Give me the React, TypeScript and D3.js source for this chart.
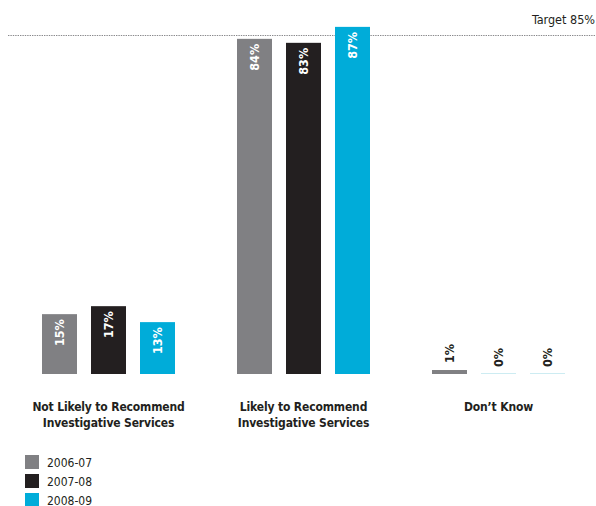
import React from "react";
import * as d3 from "d3";

const categories = [
  ["Not Likely to Recommend", "Investigative Services"],
  ["Likely to Recommend", "Investigative Services"],
  ["Don’t Know"],
];
const seriesNames = ["2006-07", "2007-08", "2008-09"];
const seriesColors = ["#808083", "#231f20", "#00acd9"];
const values2006 = [15, 84, 1];
const values2007 = [17, 83, 0];
const values2008 = [13, 87, 0];
const targetValue = 85;
const targetLabel = "Target 85%";

const W = 596;
const H = 506;
const FONT = "'Liberation Sans Narrow', 'DejaVu Sans Condensed', 'Roboto', sans-serif";
const TEXT = "#231f20";

export default function App() {
  const seriesValues = [values2006, values2007, values2008];
  const catKeys = categories.map((_, i) => String(i));
  const x0 = d3.scaleBand<string>().domain(catKeys).range([11, 596]).padding(0);
  const x1 = d3
    .scaleBand<string>()
    .domain(seriesNames)
    .range([-66.5, 66.5])
    .paddingInner(14 / 49)
    .paddingOuter(0);
  const y = d3.scaleLinear().domain([0, 100]).range([374, 374 - 399]);
  const ty = Math.round(y(targetValue)) + 0.5;

  return (
    <svg
      width={W}
      height={H}
      style={{ position: "absolute", left: 0, top: 0, background: "#fff" }}
      fontFamily={FONT}
    >
      <line
        x1={8}
        x2={W}
        y1={ty}
        y2={ty}
        stroke="#8a8a8d"
        strokeWidth={1.2}
        strokeDasharray="1.4 1"
      />
      <text x={W - 1} y={24} textAnchor="end" fontSize={12.5} fill={TEXT}>
        {targetLabel}
      </text>
      {catKeys.map((ck, ci) => {
        const cx = (x0(ck) as number) + x0.bandwidth() / 2;
        return (
          <g key={ck}>
            {seriesNames.map((s, si) => {
              const v = seriesValues[si][ci];
              const bx = cx + (x1(s) as number);
              const bw = x1.bandwidth();
              const top = y(v);
              const mid = bx + bw / 2;
              const small = v < 5;
              return (
                <g key={s}>
                  {v > 0 ? (
                    <rect x={bx} y={top} width={bw} height={y(0) - top} fill={seriesColors[si]} />
                  ) : (
                    <rect x={bx} y={y(0) - 1} width={bw} height={1} fill="#cdecf2" />
                  )}
                  <text
                    transform={`translate(${mid + 4.5},${small ? top - 7 : top + 5}) rotate(-90)`}
                    textAnchor={small ? "start" : "end"}
                    fontSize={12.5}
                    fontWeight="bold"
                    fill={small ? TEXT : "#fff"}
                  >
                    {v + "%"}
                  </text>
                </g>
              );
            })}
            {categories[ci].map((line, li) => (
              <text
                key={li}
                x={cx}
                y={411 + li * 16}
                textAnchor="middle"
                fontSize={12}
                letterSpacing={-0.15}
                fontWeight="bold"
                fill={TEXT}
              >
                {line}
              </text>
            ))}
          </g>
        );
      })}
      {seriesNames.map((s, i) => (
        <g key={s} transform={`translate(25,${455 + i * 19})`}>
          <rect width={14} height={14} fill={seriesColors[i]} />
          <text x={22} y={11.5} fontSize={12} fill={TEXT}>
            {s}
          </text>
        </g>
      ))}
    </svg>
  );
}
